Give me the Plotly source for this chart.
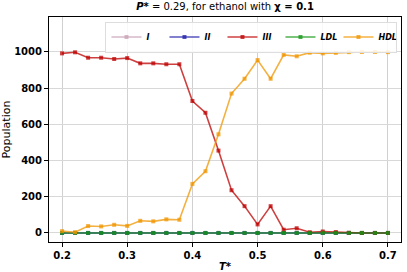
import plotly.graph_objects as go

T = [0.20, 0.22, 0.24, 0.26, 0.28, 0.30, 0.32, 0.34, 0.36, 0.38, 0.40, 0.42, 0.44,
     0.46, 0.48, 0.50, 0.52, 0.54, 0.56, 0.58, 0.60, 0.62, 0.64, 0.66, 0.68, 0.70]
pop_I = [0] * 26
pop_II = [0] * 26
pop_III = [992, 998, 968, 968, 961, 966, 937, 937, 932, 932, 729, 664, 455,
           236, 148, 47, 148, 18, 26, 4, 8, 5, 1, 0, 0, 0]
pop_LDL = [0] * 26
pop_HDL = [10, 4, 38, 36, 45, 39, 67, 64, 75, 73, 271, 341, 545,
           770, 852, 955, 852, 984, 976, 996, 992, 995, 999, 1000, 1000, 999]

series = [
    ("I", pop_I, "rgba(200,160,180,0.75)"),
    ("II", pop_II, "rgba(30,30,170,0.75)"),
    ("III", pop_III, "rgba(190,0,0,0.75)"),
    ("LDL", pop_LDL, "rgba(20,150,20,0.75)"),
    ("HDL", pop_HDL, "rgba(240,150,0,0.75)"),
]

fig = go.Figure()
for name, vals, col in series:
    fig.add_trace(go.Scatter(
        x=T, y=vals, mode="lines+markers", name=f"<b><i>{name}</i></b>",
        line=dict(color=col, width=1.6),
        marker=dict(color=col, size=4, symbol="square"),
    ))

font = "DejaVu Sans"
fig.update_layout(
    width=407, height=272,
    margin=dict(l=49, r=6, t=17, b=30),
    paper_bgcolor="white", plot_bgcolor="white",
    font=dict(family=font, size=10, color="black"),
    title=dict(
        text="<b><i>P</i>*</b> = 0.29, for ethanol with <b>χ = 0.1</b>",
        x=(49 + 401) / 2 / 407, xanchor="center", y=0.99, yanchor="top",
        font=dict(size=10, family=font, color="black"),
    ),
    showlegend=True,
    legend=dict(
        orientation="h", x=0.99, xanchor="right", y=0.98, yanchor="top",
        bgcolor="rgba(255,255,255,0.85)", bordercolor="#dddddd", borderwidth=1,
        font=dict(size=8, family=font), itemwidth=30,
        entrywidth=13, entrywidthmode="pixels",
        tracegroupgap=0,
    ),
    xaxis=dict(
        range=[0.18, 0.72], tickvals=[0.2, 0.3, 0.4, 0.5, 0.6, 0.7],
        ticktext=["<b>0.2</b>", "<b>0.3</b>", "<b>0.4</b>", "<b>0.5</b>", "<b>0.6</b>", "<b>0.7</b>"],
        showgrid=True, gridcolor="#d0d0d0", gridwidth=1, automargin=False,
        showline=True, linecolor="black", linewidth=1, mirror=True,
        ticks="outside", ticklen=4, tickcolor="black", zeroline=False,
        title=dict(text="<b><i>T</i>*</b>", standoff=2, font=dict(size=10)),
    ),
    yaxis=dict(
        range=[-50, 1193], tickvals=[0, 200, 400, 600, 800, 1000],
        ticktext=["<b>0</b>", "<b>200</b>", "<b>400</b>", "<b>600</b>", "<b>800</b>", "<b>1000</b>"],
        showgrid=True, gridcolor="#d8d8d8", gridwidth=1, automargin=False,
        showline=True, linecolor="black", linewidth=1, mirror=True,
        ticks="outside", ticklen=4, tickcolor="black", zeroline=False,
        title=dict(text="Population", standoff=6, font=dict(size=11)),
    ),
)

fig.write_html("out.html", config={"displayModeBar": False},
               post_script="document.body.style.margin='0';")
